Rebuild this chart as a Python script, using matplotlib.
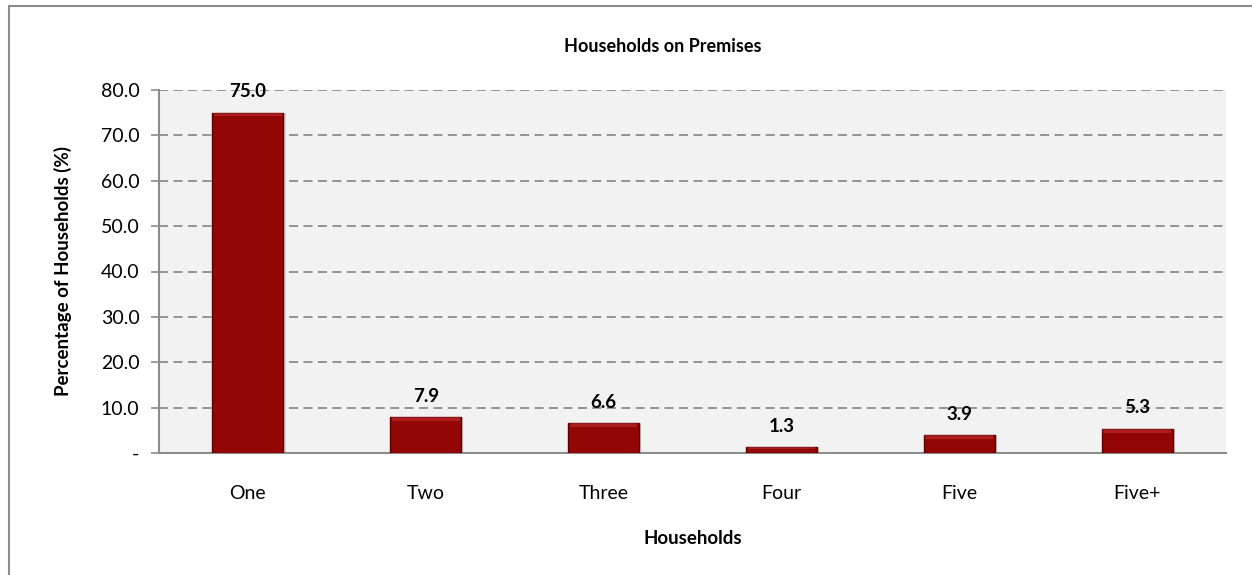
import matplotlib.pyplot as plt
from matplotlib.patches import Rectangle

plt.rcParams['font.family'] = ['Lato', 'DejaVu Sans']

categories = ['One', 'Two', 'Three', 'Four', 'Five', 'Five+']
percentages = [75.0, 7.9, 6.6, 1.3, 3.9, 5.3]
yticks = [0, 10, 20, 30, 40, 50, 60, 70, 80]
ytick_labels = ['-', '10.0', '20.0', '30.0', '40.0', '50.0', '60.0', '70.0', '80.0']

fig = plt.figure(figsize=(12.52, 5.75), dpi=100)

# outer frame (runs off the right and bottom of the picture)
fig.patches.append(Rectangle((9 / 1252, -0.1), 1.2, 1.1 - 6 / 575,
                             transform=fig.transFigure, fill=False,
                             edgecolor='#8c8c8c', linewidth=1.5))

ax = fig.add_axes([159 / 1252, 1 - 453 / 575, (1226 - 159) / 1252, (453 - 90) / 575])
ax.set_facecolor('#f2f2f2')

x = range(len(categories))
# soft shadow then the bar
ax.bar([i + 0.012 for i in x], percentages, width=0.4, color='#b0b0b0', alpha=0.5, zorder=2)
ax.bar(x, percentages, width=0.4, color='#930606', edgecolor='#5e0000', linewidth=1, zorder=3)
# glossy top highlight
hl = [min(0.8, p * 0.25) for p in percentages]
ax.bar(x, hl, bottom=[p - h for p, h in zip(percentages, hl)],
       width=0.38, color='#d23a3a', alpha=0.45, linewidth=0, zorder=4)

for i, p in enumerate(percentages):
    ax.annotate(f'{p:.1f}', (i, p), xytext=(0, 9), textcoords='offset points',
                ha='center', va='bottom', fontsize=13.5, fontweight='bold', color='black', zorder=5)

ax.set_xlim(-0.5, len(categories) - 0.5)
ax.set_ylim(0, 80)
ax.set_yticks(yticks)
ax.set_yticklabels(ytick_labels, fontsize=14)
ax.set_xticks(list(x))
ax.set_xticklabels(categories, fontsize=14)
ax.tick_params(axis='x', length=0, pad=23)
ax.tick_params(axis='y', length=6, width=1.2, color='#8c8c8c', pad=8)

ax.grid(axis='y', color='#8c8c8c', linestyle=(0, (5, 3)), linewidth=1.3, zorder=1)
ax.set_axisbelow(True)
for s in ['top', 'right']:
    ax.spines[s].set_visible(False)
for s in ['left', 'bottom']:
    ax.spines[s].set_color('#8c8c8c')
    ax.spines[s].set_linewidth(1.5)

fig.text(663 / 1252, 1 - 47 / 575, 'Households on Premises', fontsize=13,
         fontweight='bold', ha='center', va='center')
ax.set_xlabel('Households', fontsize=13.5, fontweight='bold', labelpad=20)
ax.set_ylabel('Percentage of Households (%)', fontsize=13.5, fontweight='bold', labelpad=21)

plt.savefig('out.png', dpi=100)
